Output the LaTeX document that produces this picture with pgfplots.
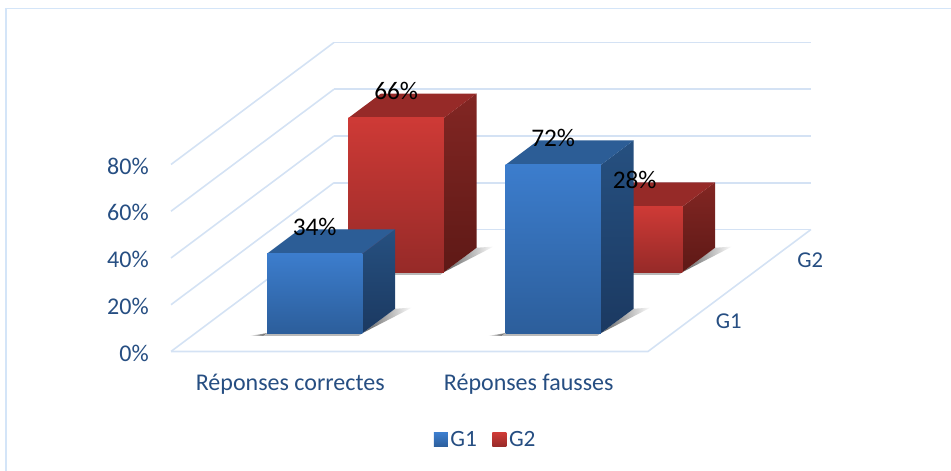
\documentclass[border=0pt]{standalone}
\usepackage{fontspec}
\setmainfont{Carlito}
\usepackage{pgfplots}
\pgfplotsset{compat=1.18}
\definecolor{txt}{RGB}{38,78,130}
\definecolor{gridc}{RGB}{212,226,244}
\definecolor{frame}{RGB}{212,229,248}
\definecolor{bfT}{RGB}{60,125,205}
\definecolor{bfB}{RGB}{44,94,155}
\definecolor{btop}{RGB}{44,93,150}
\definecolor{bsT}{RGB}{38,80,128}
\definecolor{bsB}{RGB}{27,57,97}
\definecolor{rfT}{RGB}{206,58,54}
\definecolor{rfB}{RGB}{150,42,40}
\definecolor{rtop}{RGB}{150,42,40}
\definecolor{rsT}{RGB}{130,38,35}
\definecolor{rsB}{RGB}{94,25,22}
\newcommand\shadowbar[2]{%
 \pgfmathsetmacro\xa{#1}\pgfmathsetmacro\xb{#1+0.4}\pgfmathsetmacro\ya{#2}\pgfmathsetmacro\yb{#2+0.4}%
 \pgfmathsetmacro\xc{#1+0.465}\pgfmathsetmacro\xl{#1-0.06}\pgfmathsetmacro\yl{#2-0.045}\pgfmathsetmacro\yc{#2+0.42}%
 \edef\tmp{\noexpand\addplot3[forget plot,draw=none,left color=gray!75!black,right color=white] coordinates {(\xb,\ya,0) (\xc,\yc,0) (\xb,\yb,0) (\xb,\ya,0)};
 \noexpand\addplot3[forget plot,draw=none,left color=white,right color=gray!70!black] coordinates {(\xl,\yl,0) (\xa,\yl,0) (\xa,\ya,0) (\xl,\yl,0)};
 \noexpand\addplot3[forget plot,draw=none,fill=gray!55] coordinates {(\xa,\yl,0) (\xb,\yl,0) (\xb,\ya,0) (\xa,\ya,0) (\xa,\yl,0)};}\tmp}
% #1 x, #2 y, #3 value, #4 colour prefix
\newcommand\onebar[4]{%
 \pgfmathsetmacro\xa{#1}\pgfmathsetmacro\xb{#1+0.4}\pgfmathsetmacro\ya{#2}\pgfmathsetmacro\yb{#2+0.4}%
 \edef\tmp{\noexpand\addplot3[forget plot,draw=none,top color=#4sT,bottom color=#4sB] coordinates {(\xb,\ya,0) (\xb,\yb,0) (\xb,\yb,#3) (\xb,\ya,#3) (\xb,\ya,0)};
 \noexpand\addplot3[forget plot,draw=none,fill=#4top] coordinates {(\xa,\ya,#3) (\xb,\ya,#3) (\xb,\yb,#3) (\xa,\yb,#3) (\xa,\ya,#3)};
 \noexpand\addplot3[forget plot,draw=none,top color=#4fT,bottom color=#4fB] coordinates {(\xa,\ya,0) (\xb,\ya,0) (\xb,\ya,#3) (\xa,\ya,#3) (\xa,\ya,0)};}\tmp}
\begin{document}
\begin{tikzpicture}
\path[use as bounding box] (0pt,0pt) rectangle (713.25pt,-353.25pt);
\draw[frame,line width=1.8pt] (4.6pt,-353.25pt) -- (4.6pt,-6.3pt);
\draw[frame,line width=0.9pt] (3.6pt,-6.3pt) -- (713.25pt,-6.3pt);
\begin{axis}[
 at={(128.25pt,-263.6pt)},anchor=origin,
 x={(178.875pt,0pt)},y={(61.125pt,45.75pt)},z={(0pt,1.753pt)},
 xmin=0,xmax=2,ymin=0,ymax=2,zmin=0,zmax=80,
 clip=false,
 axis line style={draw=none},
 major tick length=0pt,
 tick style={draw=none},
 xtick={0.5,1.5},xticklabels={Réponses correctes,Réponses fausses},
 ytick={0.5,1.5},yticklabels={G1,G2},
 ztick={0,20,40,60,80},zticklabels={0\%,20\%,40\%,60\%,80\%},
 xmajorgrids=false,ymajorgrids=false,zmajorgrids=true,
 grid style={gridc,line width=1.2pt},
 ticklabel style={font=\fontsize{18}{21}\selectfont,text=txt},
 xticklabel style={anchor=center,yshift=-24.5pt},
 yticklabel style={anchor=center,xshift=30pt,yshift=0pt,font=\fontsize{17}{20}\selectfont},
 zticklabel style={anchor=east,xshift=-13.2pt,yshift=-1.2pt},
 legend style={at={(axis cs:1.3208,0,-37.8)},anchor=center,draw=none,fill=none,legend columns=2,
   font=\fontsize{17.5}{20}\selectfont,text=txt,
   /tikz/every even column/.append style={column sep=9.5pt}},
]
\addlegendimage{legend image code/.code={\path[top color=bfT,bottom color=bfB,draw=none] (-3pt,-5.25pt) rectangle (7.5pt,5.25pt);}}
\addlegendentry{G1}
\addlegendimage{legend image code/.code={\path[top color=rfT,bottom color=rfB,draw=none] (-3pt,-5.25pt) rectangle (7.5pt,5.25pt);}}
\addlegendentry{G2}
\addplot3[forget plot,gridc,line width=1.2pt] coordinates {(0,0,0) (2,0,0) (2,2,0)};
\shadowbar{0.3}{1.3}
\shadowbar{1.3}{1.3}
\onebar{0.3}{1.3}{66}{r}
\onebar{1.3}{1.3}{28}{r}
\shadowbar{0.3}{0.3}
\shadowbar{1.3}{0.3}
\onebar{0.3}{0.3}{34}{b}
\onebar{1.3}{0.3}{72}{b}
\node[font=\fontsize{19}{22}\selectfont,text=black,yshift=20.25pt] at (axis cs:0.5,0.3,34) {34\%};
\node[font=\fontsize{19}{22}\selectfont,text=black,yshift=20.25pt] at (axis cs:0.5,1.3,66) {66\%};
\node[font=\fontsize{19}{22}\selectfont,text=black,yshift=20.25pt] at (axis cs:1.5,0.3,72) {72\%};
\node[font=\fontsize{19}{22}\selectfont,text=black,yshift=20.25pt] at (axis cs:1.5,1.3,28) {28\%};
\end{axis}
\end{tikzpicture}
\end{document}
